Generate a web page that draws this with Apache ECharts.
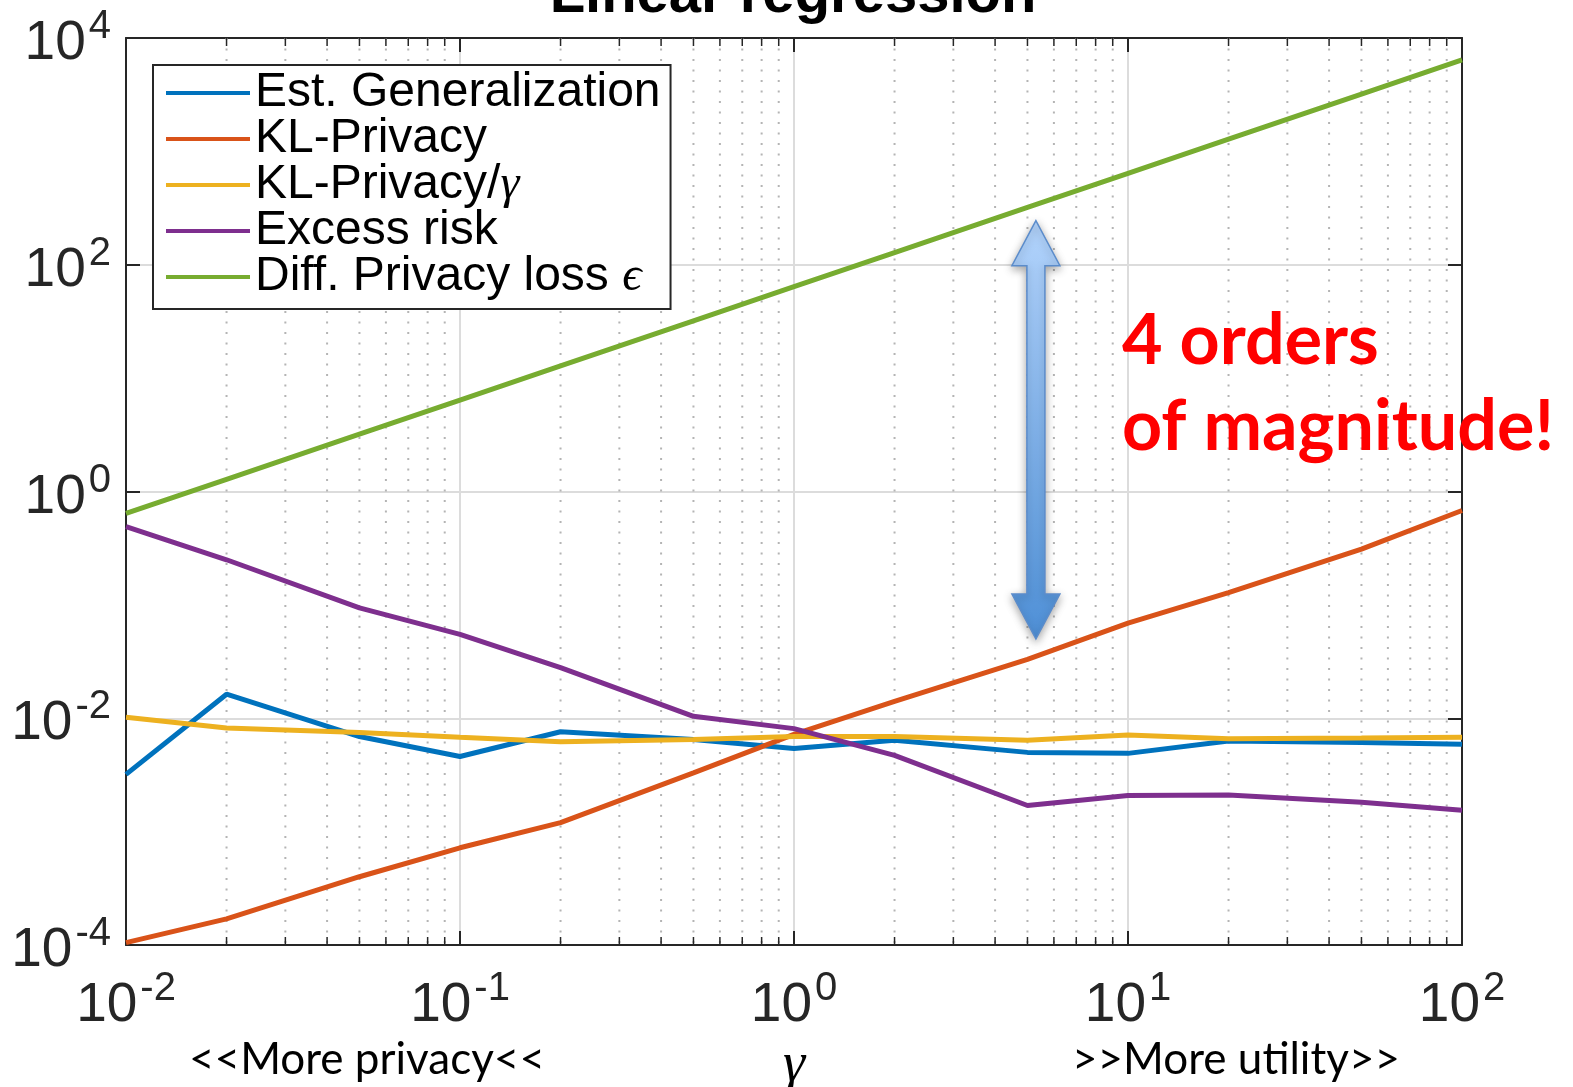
<!DOCTYPE html>
<html>
<head>
<meta charset="utf-8">
<script src="https://cdn.jsdelivr.net/npm/echarts@6/dist/echarts.min.js"></script>
<style>
  html, body { margin: 0; padding: 0; background: #fff; }
  #chart { width: 1573px; height: 1087px; }
</style>
</head>
<body>
<div id="chart"></div>
<script>
// Regularisation strength gamma (x) sampled on a 1-2-5 grid
const gamma = [0.01, 0.02, 0.05, 0.1, 0.2, 0.5, 1, 2, 5, 10, 20, 50, 100];

const estGeneralization = [3.2e-3, 0.0163, 6.9e-3, 4.6e-3, 7.6e-3, 6.5e-3, 5.4e-3, 6.4e-3, 5.0e-3, 4.9e-3, 6.3e-3, 6.1e-3, 5.9e-3];
const klPrivacy         = [1.05e-4, 1.7e-4, 4.0e-4, 7.2e-4, 1.2e-3, 3.3e-3, 7.2e-3, 0.0141, 0.033, 0.069, 0.128, 0.31, 0.68];
const klPrivacyPerGamma = [0.0102, 8.2e-3, 7.5e-3, 6.8e-3, 6.2e-3, 6.5e-3, 6.9e-3, 6.9e-3, 6.4e-3, 7.1e-3, 6.6e-3, 6.7e-3, 6.8e-3];
const excessRisk        = [0.49, 0.25, 0.094, 0.055, 0.028, 0.0104, 8.1e-3, 4.7e-3, 1.7e-3, 2.08e-3, 2.1e-3, 1.82e-3, 1.54e-3];
const dpLoss            = [0.64, 1.28, 3.2, 6.4, 12.8, 32, 64, 128, 320, 640, 1280, 3200, 6400];

const seriesNames = ['Est. Generalization', 'KL-Privacy', 'KL-Privacy/γ', 'Excess risk', 'Diff. Privacy loss ϵ'];
const seriesColors = ['#0072BD', '#D95319', '#EDB120', '#7E2F8E', '#77AC30'];
const seriesValues = [estGeneralization, klPrivacy, klPrivacyPerGamma, excessRisk, dpLoss];

// Minor gridline / tick positions on the log x axis
const minorX = [0.02, 0.03, 0.04, 0.05, 0.06, 0.07, 0.08, 0.09,
                0.2, 0.3, 0.4, 0.5, 0.6, 0.7, 0.8, 0.9,
                2, 3, 4, 5, 6, 7, 8, 9,
                20, 30, 40, 50, 60, 70, 80, 90];

const X_RANGE = [0.01, 100];
const Y_RANGE = [1e-4, 1e4];

const AXIS_COLOR = '#262626';
const SANS = 'Liberation Sans, Arial, Helvetica, sans-serif';
const SERIF = 'Liberation Serif, Times New Roman, serif';
const HUMANIST = 'Lato, Open Sans, sans-serif';

function powerLabel(v) {
  const e = Math.round(Math.log10(v));
  return '{b|10}{s|' + e + '}';
}
const labelRich = {
  b: { fontFamily: SANS, fontSize: 55, lineHeight: 55, color: '#262626', padding: [19, 0, 0, 0] },
  s: { fontFamily: SANS, fontSize: 40, lineHeight: 40, color: '#262626', verticalAlign: 'top', padding: [0, 0, 0, 3] }
};

const chart = echarts.init(document.getElementById('chart'), null, { renderer: 'canvas' });

const lineSeries = seriesNames.map((name, i) => ({
  name: name,
  type: 'line',
  xAxisIndex: 0,
  yAxisIndex: 0,
  data: gamma.map((g, k) => [g, seriesValues[i][k]]),
  showSymbol: false,
  symbol: 'none',
  lineStyle: { color: seriesColors[i], width: 5 },
  itemStyle: { color: seriesColors[i] },
  z: 5 + i
}));

const minorGridSeries = {
  type: 'custom',
  xAxisIndex: 0,
  yAxisIndex: 0,
  silent: true,
  clip: false,
  z: 1,
  data: minorX.map(v => [v, 1]),
  encode: { x: 0, y: 1 },
  renderItem: function (params, api) {
    const x = api.value(0);
    const top = api.coord([x, Y_RANGE[1]]);
    const bot = api.coord([x, Y_RANGE[0]]);
    return {
      type: 'group',
      children: [
        { type: 'line', shape: { x1: top[0], y1: top[1], x2: bot[0], y2: bot[1] },
          style: { stroke: '#b4b4b4', lineWidth: 2, lineDash: [2, 8.5] } },
        { type: 'line', shape: { x1: bot[0], y1: bot[1], x2: bot[0], y2: bot[1] - 8 },
          style: { stroke: AXIS_COLOR, lineWidth: 1.5 } },
        { type: 'line', shape: { x1: top[0], y1: top[1], x2: top[0], y2: top[1] + 8 },
          style: { stroke: AXIS_COLOR, lineWidth: 1.5 } }
      ]
    };
  }
};

const option = {
  animation: false,
  backgroundColor: '#ffffff',
  grid: { left: 126, right: 111, top: 38, bottom: 142, containLabel: false, outerBoundsMode: 'none' },
  legend: {
    data: seriesNames,
    orient: 'vertical',
    left: 153,
    top: 65,
    padding: [4, 10, 8, 13],
    itemGap: -2,
    itemWidth: 84,
    itemHeight: 4,
    icon: 'rect',
    borderColor: AXIS_COLOR,
    borderWidth: 2,
    backgroundColor: '#ffffff',
    selectedMode: false,
    textStyle: {
      fontFamily: SANS, fontSize: 48, lineHeight: 46, color: '#000',
      rich: {
        g: { fontFamily: SERIF, fontStyle: 'italic', fontSize: 48, lineHeight: 46, color: '#000' }
      }
    },
    formatter: function (name) {
      return name.replace('γ', '{g|γ}').replace('ϵ', '{g|ϵ}');
    }
  },
  xAxis: [
    {
      type: 'log', logBase: 10, min: X_RANGE[0], max: X_RANGE[1], interval: 1, splitNumber: 4,
      position: 'bottom',
      axisLine: { show: true, onZero: false, lineStyle: { color: AXIS_COLOR, width: 2 } },
      axisTick: { show: true, inside: true, length: 14, lineStyle: { color: AXIS_COLOR, width: 2 } },
      axisLabel: { formatter: powerLabel, rich: labelRich, margin: 24, color: '#262626' },
      splitLine: { show: true, lineStyle: { color: '#dcdcdc', width: 2 } },
      minorTick: { show: false },
      name: 'γ',
      nameLocation: 'middle',
      nameGap: 92,
      nameTextStyle: { fontFamily: SERIF, fontStyle: 'italic', fontSize: 56, color: '#000' }
    },
    {
      type: 'log', logBase: 10, min: X_RANGE[0], max: X_RANGE[1], interval: 1, splitNumber: 4,
      position: 'top',
      axisLine: { show: true, onZero: false, lineStyle: { color: AXIS_COLOR, width: 2 } },
      axisTick: { show: true, inside: true, length: 14, lineStyle: { color: AXIS_COLOR, width: 2 } },
      axisLabel: { show: false },
      splitLine: { show: false }
    }
  ],
  yAxis: [
    {
      type: 'log', logBase: 10, min: Y_RANGE[0], max: Y_RANGE[1], interval: 2, splitNumber: 4,
      position: 'left',
      axisLine: { show: true, onZero: false, lineStyle: { color: AXIS_COLOR, width: 2 } },
      axisTick: { show: true, inside: true, length: 14, lineStyle: { color: AXIS_COLOR, width: 2 } },
      axisLabel: { formatter: powerLabel, rich: labelRich, margin: 15, padding: [0, 0, 7, 0], color: '#262626' },
      splitLine: { show: true, lineStyle: { color: '#dcdcdc', width: 2 } }
    },
    {
      type: 'log', logBase: 10, min: Y_RANGE[0], max: Y_RANGE[1], interval: 2, splitNumber: 4,
      position: 'right',
      axisLine: { show: true, onZero: false, lineStyle: { color: AXIS_COLOR, width: 2 } },
      axisTick: { show: true, inside: true, length: 14, lineStyle: { color: AXIS_COLOR, width: 2 } },
      axisLabel: { show: false },
      splitLine: { show: false }
    }
  ],
  series: [minorGridSeries].concat(lineSeries)
};

chart.setOption(option);

// Annotations: title, axis side captions, arrow spanning the gap, red note
const arrowX = 5.3;            // gamma where the arrow sits
const arrowTop = 245;          // upper tip value
const arrowBottom = 0.05;      // lower tip value
const pTop = chart.convertToPixel({ xAxisIndex: 0, yAxisIndex: 0 }, [arrowX, arrowTop]);
const pBot = chart.convertToPixel({ xAxisIndex: 0, yAxisIndex: 0 }, [arrowX, arrowBottom]);
const ax = pTop[0], yT = pTop[1], yB = pBot[1];
const headLen = 45, headHalf = 24, shaftHalf = 9;

chart.setOption({
  graphic: [
    {
      type: 'text', x: 793, y: 25, z: 20,
      style: { text: 'Linear regression', font: 'bold 58px ' + SANS, fill: '#000',
               textAlign: 'center', textVerticalAlign: 'bottom' }
    },
    {
      type: 'text', x: 367, y: 1060, z: 20,
      style: { text: '<<More privacy<<', font: '44px ' + HUMANIST, fill: '#000',
               textAlign: 'center', textVerticalAlign: 'middle' }
    },
    {
      type: 'text', x: 1236, y: 1060, z: 20,
      style: { text: '>>More utility>>', font: '44px ' + HUMANIST, fill: '#000',
               textAlign: 'center', textVerticalAlign: 'middle' }
    },
    {
      type: 'text', x: 1122, y: 341, z: 20,
      style: { text: '4 orders', font: 'bold 70px ' + HUMANIST, fill: '#ff0000',
               textAlign: 'left', textVerticalAlign: 'middle' }
    },
    {
      type: 'text', x: 1122, y: 427, z: 20,
      style: { text: 'of magnitude!', font: 'bold 70px ' + HUMANIST, fill: '#ff0000',
               textAlign: 'left', textVerticalAlign: 'middle' }
    },
    {
      type: 'polygon', z: 15,
      shape: {
        points: [
          [ax, yT],
          [ax + headHalf, yT + headLen],
          [ax + shaftHalf, yT + headLen],
          [ax + shaftHalf, yB - headLen],
          [ax + headHalf, yB - headLen],
          [ax, yB],
          [ax - headHalf, yB - headLen],
          [ax - shaftHalf, yB - headLen],
          [ax - shaftHalf, yT + headLen],
          [ax - headHalf, yT + headLen]
        ]
      },
      style: {
        fill: new echarts.graphic.LinearGradient(0, 0, 0, 1, [
          { offset: 0, color: '#b3d4fc' },
          { offset: 1, color: '#4e8fd6' }
        ]),
        stroke: '#5b8ccb',
        lineWidth: 1.5,
        shadowBlur: 8,
        shadowOffsetY: 3,
        shadowColor: 'rgba(0,0,0,0.35)'
      }
    }
  ]
});
</script>
</body>
</html>
